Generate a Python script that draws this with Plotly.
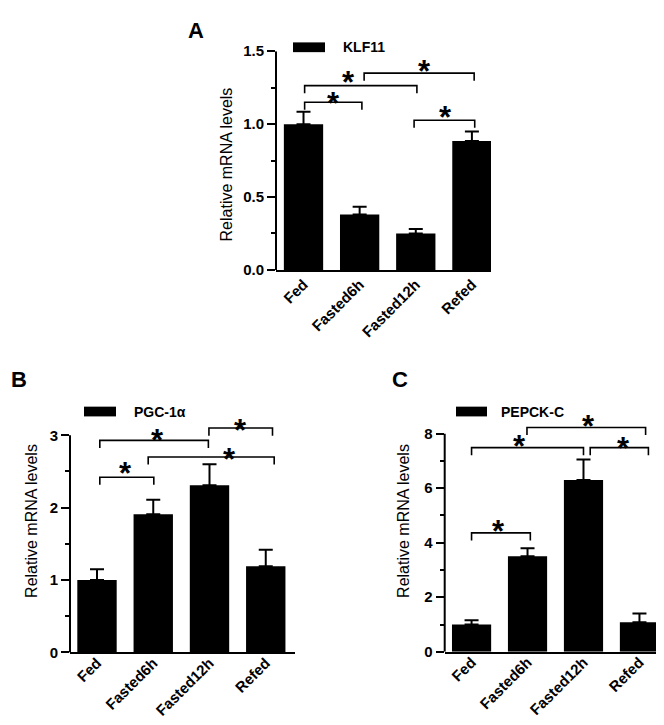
import plotly.graph_objects as go

# ---------------- data ----------------
categories = ["Fed", "Fasted6h", "Fasted12h", "Refed"]

klf11_mean = [1.00, 0.38, 0.25, 0.885]
klf11_err = [0.085, 0.054, 0.03, 0.065]

pgc1a_mean = [1.00, 1.91, 2.31, 1.19]
pgc1a_err = [0.15, 0.20, 0.29, 0.23]

pepck_mean = [1.00, 3.50, 6.30, 1.08]
pepck_err = [0.16, 0.30, 0.75, 0.32]

# y ticks
klf11_ticks = [0.0, 0.5, 1.0, 1.5]
klf11_ticktext = ["0.0", "0.5", "1.0", "1.5"]
klf11_minor = [0.25, 0.75, 1.25]
pgc1a_ticks = [0, 1, 2, 3]
pgc1a_ticktext = ["0", "1", "2", "3"]
pgc1a_minor = [0.5, 1.5, 2.5]
pepck_ticks = [0, 2, 4, 6, 8]
pepck_ticktext = ["0", "2", "4", "6", "8"]
pepck_minor = [1, 3, 5, 7]

# significance brackets (category units for x, data units for height)
klf11_brk_left = [0.02, 0.02, 1.08, 1.97]
klf11_brk_right = [1.04, 2.02, 3.04, 3.05]
klf11_brk_height = [1.15, 1.264, 1.35, 1.027]
klf11_star_x = [0.54, 0.80, 2.16, 2.53]
klf11_star_y = [1.188, 1.331, 1.407, 1.092]

pgc1a_brk_left = [0.05, 0.05, 0.91, 1.99]
pgc1a_brk_right = [1.01, 1.98, 3.15, 3.12]
pgc1a_brk_height = [2.42, 2.93, 2.70, 3.10]
pgc1a_star_x = [0.51, 1.07, 2.35, 2.55]
pgc1a_star_y = [2.566, 3.031, 2.761, 3.166]

pepck_brk_left = [0.00, 0.00, 0.99, 2.12]
pepck_brk_right = [1.05, 2.00, 3.11, 3.16]
pepck_brk_height = [4.36, 7.49, 8.23, 7.49]
pepck_star_x = [0.49, 0.85, 2.09, 2.72]
pepck_star_y = [4.687, 7.775, 8.538, 7.714]

# ---------------- layout helpers ----------------
W, H = 664, 725
FONT = "Liberation Sans, Arial, Helvetica, sans-serif"


def fx(px):
    return px / W


def fy(py):
    return 1 - py / H


panels = [
    dict(name="KLF11", letter="A", mean=klf11_mean, err=klf11_err,
         ticks=klf11_ticks, ticktext=klf11_ticktext, minor=klf11_minor,
         axis_top=1.5, range_top=1.5, legdrop=0.052,
         bl=klf11_brk_left, br=klf11_brk_right, bh=klf11_brk_height,
         sx=klf11_star_x, sy=klf11_star_y,
         xdom=(268, 483), ybot=259, ppu=149.3, xr=(-0.49, 3.34),
         leg_rect=(285, 26, 317, 36), leg_text=(333, 31), standoff=-2,
         letter_pos=(188, 14), title_pos=(218, 151)),
    dict(name="PGC-1α", letter="B", mean=pgc1a_mean, err=pgc1a_err,
         ticks=pgc1a_ticks, ticktext=pgc1a_ticktext, minor=pgc1a_minor,
         axis_top=3, range_top=3.35, legdrop=0.105,
         bl=pgc1a_brk_left, br=pgc1a_brk_right, bh=pgc1a_brk_height,
         sx=pgc1a_star_x, sy=pgc1a_star_y,
         xdom=(62, 287), ybot=650.7, ppu=74.13, xr=(-0.48, 3.52),
         leg_rect=(76, 399, 108, 409), leg_text=(124, 404), standoff=-6,
         letter_pos=(11, 371), title_pos=(24, 516)),
    dict(name="PEPCK-C", letter="C", mean=pepck_mean, err=pepck_err,
         ticks=pepck_ticks, ticktext=pepck_ticktext, minor=pepck_minor,
         axis_top=8, range_top=8.9, legdrop=0.28,
         bl=pepck_brk_left, br=pepck_brk_right, bh=pepck_brk_height,
         sx=pepck_star_x, sy=pepck_star_y,
         xdom=(436.7, 660), ybot=650, ppu=27.91, xr=(-0.48, 3.51),
         leg_rect=(448, 399, 479, 409), leg_text=(491, 404), standoff=-6,
         letter_pos=(392, 371), title_pos=(396, 516)),
]

fig = go.Figure()
shapes = []
annotations = []
layout_axes = {}

xpos = list(range(len(categories)))

for k, p in enumerate(panels):
    sfx = "" if k == 0 else str(k + 1)
    xa, ya = "x" + sfx, "y" + sfx

    fig.add_trace(go.Bar(
        x=xpos, y=p["mean"], width=0.7,
        marker=dict(color="black", line=dict(width=0)),
        error_y=dict(type="data", symmetric=False, array=p["err"],
                     arrayminus=[0] * len(p["err"]),
                     color="black", thickness=2, width=7),
        xaxis=xa, yaxis=ya, showlegend=False, hoverinfo="skip",
    ))

    bx, by = [], []
    for l, r, h in zip(p["bl"], p["br"], p["bh"]):
        d = p["legdrop"]
        bx += [l, l, r, r, None]
        by += [h - d, h, h, h - d, None]
    fig.add_trace(go.Scatter(
        x=bx, y=by, mode="lines", line=dict(color="black", width=1.6),
        xaxis=xa, yaxis=ya, showlegend=False, hoverinfo="skip",
    ))

    for sx, sy in zip(p["sx"], p["sy"]):
        annotations.append(dict(
            x=sx, y=sy, xref=xa, yref=ya, text="*", showarrow=False,
            xanchor="center", yanchor="middle", yshift=-7,
            font=dict(family=FONT, size=31, color="black", weight=700),
        ))

    ytop_px = p["ybot"] - p["range_top"] * p["ppu"]
    layout_axes["xaxis" + sfx] = dict(
        domain=[fx(p["xdom"][0]), fx(p["xdom"][1])], anchor=ya,
        range=list(p["xr"]), tickvals=xpos, ticktext=categories,
        tickangle=-45, ticks="", showline=True, linecolor="black",
        linewidth=2, showgrid=False, zeroline=False,
        ticklabelstandoff=p["standoff"],
        tickfont=dict(family=FONT, size=15, color="black", weight=700),
    )
    layout_axes["yaxis" + sfx] = dict(
        domain=[fy(p["ybot"]), fy(ytop_px)], anchor=xa,
        range=[0, p["range_top"]], tickvals=p["ticks"],
        ticktext=p["ticktext"], ticks="outside", ticklen=8, tickwidth=2,
        tickcolor="black", showline=False, showgrid=False, zeroline=False,
        minor=dict(tickvals=p["minor"], ticks="outside", ticklen=4,
                   tickwidth=2, tickcolor="black"),
        tickfont=dict(family=FONT, size=15, color="black", weight=700),
    )
    # y axis line up to the last labelled tick
    shapes.append(dict(type="line", xref=xa + " domain", yref=ya,
                       x0=0, x1=0, y0=0, y1=p["axis_top"],
                       line=dict(color="black", width=2)))

    # legend box + text
    x0, y0, x1, y1 = p["leg_rect"]
    shapes.append(dict(type="rect", xref="paper", yref="paper",
                       x0=fx(x0), x1=fx(x1), y0=fy(y1), y1=fy(y0),
                       fillcolor="black", line=dict(width=0)))
    annotations.append(dict(
        x=fx(p["leg_text"][0]), y=fy(p["leg_text"][1]), xref="paper",
        yref="paper", text=p["name"], showarrow=False, xanchor="left",
        yanchor="middle",
        font=dict(family=FONT, size=14, color="black", weight=700),
    ))
    # panel letter
    annotations.append(dict(
        x=fx(p["letter_pos"][0]), y=fy(p["letter_pos"][1]), xref="paper",
        yref="paper", text=p["letter"], showarrow=False, xanchor="center",
        yanchor="middle",
        font=dict(family=FONT, size=22, color="black", weight=700),
    ))
    # y axis title
    annotations.append(dict(
        x=fx(p["title_pos"][0]), y=fy(p["title_pos"][1]), xref="paper",
        yref="paper", text="Relative mRNA levels", showarrow=False,
        textangle=-90, xanchor="center", yanchor="middle",
        font=dict(family=FONT, size=16, color="black", weight=500),
    ))

fig.update_layout(
    width=W, height=H, margin=dict(l=0, r=0, t=0, b=0),
    paper_bgcolor="white", plot_bgcolor="white",
    showlegend=False, shapes=shapes, annotations=annotations,
    **layout_axes,
)

fig.write_html("out.html")
